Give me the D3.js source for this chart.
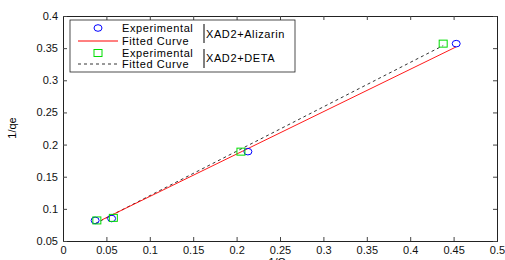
<!DOCTYPE html>
<html lang="en">
<head>
<meta charset="UTF-8">
<title>1/qe vs 1/Ce</title>
<script src="https://d3js.org/d3.v7.min.js"></script>
<style>
  body { margin: 0; background: #fff; }
  text { font-family: "Liberation Sans", Arial, sans-serif; }
</style>
</head>
<body>
<svg id="chart" width="505" height="260"></svg>
<script>
// data
const alizX = [0.037, 0.056, 0.213, 0.453];
const alizY = [0.082, 0.085, 0.189, 0.357];
const detaX = [0.039, 0.058, 0.205, 0.438];
const detaY = [0.082, 0.086, 0.189, 0.357];
// fitted straight lines, end points
const alizFitX = [0.045, 0.453];
const alizFitY = [0.083, 0.352];
const detaFitX = [0.037, 0.438];
const detaFitY = [0.077, 0.354];
const xTicks = [0, 0.05, 0.1, 0.15, 0.2, 0.25, 0.3, 0.35, 0.4, 0.45, 0.5];
const yTicks = [0.05, 0.1, 0.15, 0.2, 0.25, 0.3, 0.35, 0.4];

const svg = d3.select("#chart");
const m = {left: 63, right: 497, top: 16, bottom: 241};

const x = d3.scaleLinear().domain([0, 0.5]).range([m.left, m.right]);
const y = d3.scaleLinear().domain([0.05, 0.4]).range([m.bottom, m.top]);
const fmt = d => d3.format("")(+d.toFixed(2));

// axes, MATLAB style: ticks inward, box around
svg.append("g").attr("transform", `translate(0,${m.bottom})`)
  .call(d3.axisBottom(x).tickValues(xTicks).tickSize(-4).tickPadding(5).tickFormat(fmt));
svg.append("g").attr("transform", `translate(0,${m.top})`)
  .call(d3.axisTop(x).tickValues(xTicks).tickSize(-4).tickFormat(""));
svg.append("g").attr("transform", `translate(${m.left},0)`)
  .call(d3.axisLeft(y).tickValues(yTicks).tickSize(-4).tickPadding(5).tickFormat(fmt));
svg.append("g").attr("transform", `translate(${m.right},0)`)
  .call(d3.axisRight(y).tickValues(yTicks).tickSize(-4).tickFormat(""));
svg.selectAll(".domain").attr("stroke", "#222");
svg.selectAll(".tick line").attr("stroke", "#444");
svg.selectAll(".tick text").attr("font-size", 11).attr("fill", "#111")
  .attr("font-family", "Liberation Sans, Arial, sans-serif");

// axis labels
svg.append("text").attr("x", 280).attr("y", 266)
  .attr("text-anchor", "middle").attr("font-size", 11).text("1/Ce");
svg.append("text").attr("transform", "translate(16,128) rotate(-90)")
  .attr("text-anchor", "middle").attr("font-size", 11).text("1/qe");

const line = d3.line().x(d => x(d[0])).y(d => y(d[1]));

svg.append("path").datum(d3.zip(detaFitX, detaFitY)).attr("d", line)
  .attr("fill", "none").attr("stroke", "#000").attr("stroke-width", 0.8)
  .attr("stroke-dasharray", "3,3");
svg.append("path").datum(d3.zip(alizFitX, alizFitY)).attr("d", line)
  .attr("fill", "none").attr("stroke", "#ff0000").attr("stroke-width", 0.9);

svg.append("g").selectAll("ellipse").data(d3.zip(alizX, alizY)).join("ellipse")
  .attr("cx", d => x(d[0])).attr("cy", d => y(d[1])).attr("rx", 4).attr("ry", 3.3)
  .attr("fill", "none").attr("stroke", "#0000ff").attr("stroke-width", 1);
svg.append("g").selectAll("rect").data(d3.zip(detaX, detaY)).join("rect")
  .attr("x", d => x(d[0]) - 4).attr("y", d => y(d[1]) - 3.5).attr("width", 8).attr("height", 7)
  .attr("fill", "none").attr("stroke", "#00dd00").attr("stroke-width", 1);

// legend
const lg = svg.append("g");
lg.append("rect").attr("x", 70).attr("y", 20).attr("width", 225).attr("height", 52)
  .attr("fill", "#fff").attr("stroke", "#222").attr("stroke-width", 0.8);
const rows = [
  {yy: 28, kind: "circle", label: "Experimental"},
  {yy: 41, kind: "solid", label: "Fitted Curve"},
  {yy: 53, kind: "square", label: "Experimental"},
  {yy: 64, kind: "dash", label: "Fitted Curve"}
];
rows.forEach(r => {
  if (r.kind === "circle")
    lg.append("ellipse").attr("cx", 98).attr("cy", r.yy).attr("rx", 4).attr("ry", 3.3)
      .attr("fill", "none").attr("stroke", "#0000ff");
  if (r.kind === "square")
    lg.append("rect").attr("x", 94).attr("y", r.yy - 3.5).attr("width", 8).attr("height", 7)
      .attr("fill", "none").attr("stroke", "#00dd00");
  if (r.kind === "solid")
    lg.append("line").attr("x1", 78).attr("x2", 118).attr("y1", r.yy).attr("y2", r.yy)
      .attr("stroke", "#ff0000");
  if (r.kind === "dash")
    lg.append("line").attr("x1", 78).attr("x2", 118).attr("y1", r.yy).attr("y2", r.yy)
      .attr("stroke", "#000").attr("stroke-width", 0.8).attr("stroke-dasharray", "3,3");
  lg.append("text").attr("x", 122).attr("y", r.yy + 4).attr("font-size", 11)
    .attr("letter-spacing", 0.6).text(r.label);
});
[{y0: 24, y1: 43, ty: 38, t: "XAD2+Alizarin"}, {y0: 49, y1: 68, ty: 62, t: "XAD2+DETA"}].forEach(g => {
  lg.append("line").attr("x1", 204).attr("x2", 204).attr("y1", g.y0).attr("y2", g.y1)
    .attr("stroke", "#000");
  lg.append("text").attr("x", 206).attr("y", g.ty).attr("font-size", 11)
    .attr("letter-spacing", 0.6).text(g.t);
});
</script>
</body>
</html>
